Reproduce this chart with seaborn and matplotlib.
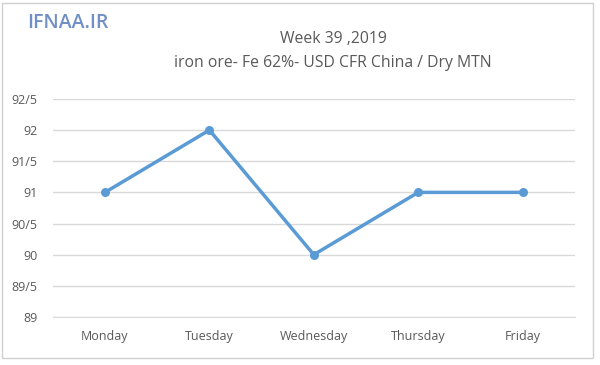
import seaborn as sns
import matplotlib.pyplot as plt
from matplotlib.patches import Rectangle

days = ["Monday", "Tuesday", "Wednesday", "Thursday", "Friday"]
prices = [91, 92, 90, 91, 91]
y_ticks = [89, 89.5, 90, 90.5, 91, 91.5, 92, 92.5]
y_tick_labels = ["89", "89/5", "90", "90/5", "91", "91/5", "92", "92/5"]

sns.set_style("white")
plt.rcParams['font.family'] = ['Open Sans', 'DejaVu Sans']

fig = plt.figure(figsize=(6, 3.65), dpi=100)
ax = fig.add_axes([0.088, 0.1315, 0.87, 0.5975])

sns.lineplot(x=days, y=prices, sort=False, marker="o", markersize=6.5,
             color="#5b9bd5", linewidth=2.5, markeredgewidth=0, ax=ax)

ax.set_xlim(-0.5, 4.5)
ax.set_ylim(89, 92.5)
ax.set_yticks(y_ticks)
ax.set_yticklabels(y_tick_labels)
ax.yaxis.grid(True, color="#d9d9d9", linewidth=1)
ax.set_axisbelow(True)
for s in ["top", "right", "left"]:
    ax.spines[s].set_visible(False)
ax.spines["bottom"].set_color("#d9d9d9")
ax.tick_params(axis="both", length=0, labelsize=9, labelcolor="#595959")
ax.tick_params(axis="y", pad=11)
ax.tick_params(axis="x", pad=9)
ax.set_xlabel("")
ax.set_ylabel("")

fig.text(0.555, 0.892, "Week 39 ,2019", ha="center", va="center",
         fontsize=11.3, color="#595959")
fig.text(0.555, 0.827, "iron ore- Fe 62%- USD CFR China / Dry MTN",
         ha="center", va="center", fontsize=11.3, color="#595959")
fig.text(0.045, 0.937, "IFNAA.IR", ha="left", va="center", fontsize=14,
         color="#6f8fc6", fontweight="semibold")

fig.patches.append(Rectangle((0.004, 0.02), 0.985, 0.972, transform=fig.transFigure,
                             fill=False, edgecolor="#d0d0d0", linewidth=1))

fig.savefig("out.png", dpi=100)
